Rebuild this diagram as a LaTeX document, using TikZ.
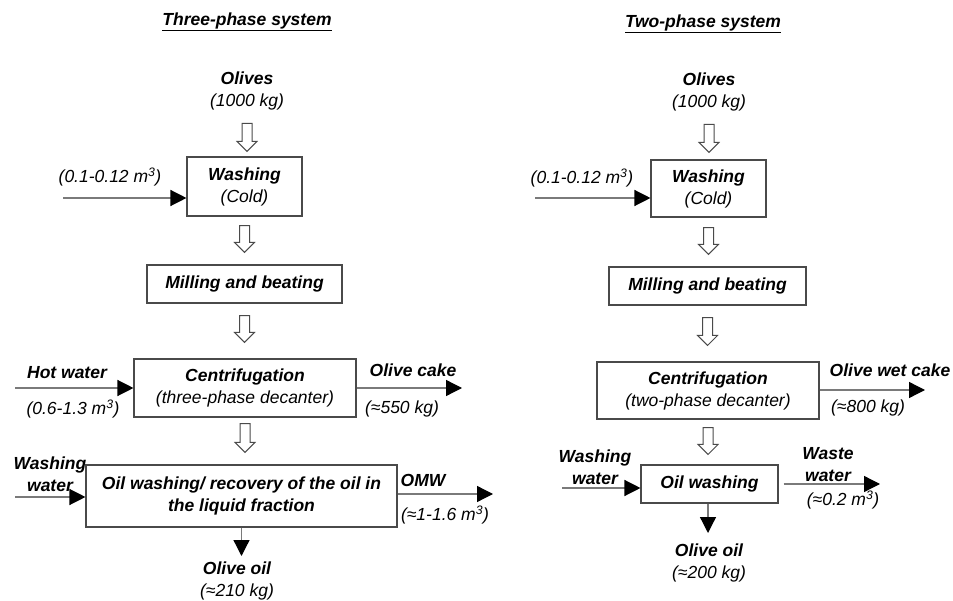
\documentclass[tikz,border=0pt]{standalone}
\usepackage{fontspec}
\setmainfont{Liberation Sans}
\usetikzlibrary{arrows.meta,calc}
\definecolor{boxgray}{HTML}{4A4A4A}
\definecolor{flowgray}{HTML}{7A7A7A}
\newcommand{\fsz}{\fontsize{17.5}{22}\selectfont}
\newcommand{\harrow}[2]{%
  \path (#1) coordinate (hA);
  \path (#2) coordinate (hB);
  \draw[hollow] let \p1=(hA), \p2=(hB) in
    (\x1-5pt,\y1) -- (\x1+5pt,\y1) -- (\x1+5pt,\y2+10pt) -- (\x1+10pt,\y2+10pt)
    -- (\x1,\y2) -- (\x1-10pt,\y2+10pt) -- (\x1-5pt,\y2+10pt) -- cycle;}
\tikzset{
  box/.style={draw=boxgray, line width=1.1pt, inner sep=0pt, align=center, font=\fsz\bfseries\itshape},
  lab/.style={font=\fsz\bfseries\itshape, align=center, inner sep=0pt},
  qty/.style={font=\fsz\itshape, align=center, inner sep=0pt},
  flow/.style={draw=flowgray, line width=1.3pt, -{Triangle[length=16pt,width=16pt,color=black]}},
  hollow/.style={draw=boxgray, line width=1pt, fill=white},
  ttl/.style={font=\fsz\bfseries\itshape, inner sep=0pt}
}
\begin{document}
\begin{tikzpicture}[x=1pt,y=-1pt]
\useasboundingbox[fill=white] (0,0) rectangle (953,601);

% ---------------- Three-phase system ----------------
\node[ttl] (titleL) at (247,22) {\underline{Three-phase system}};
\node[lab] (olivesL) at (247,91) {Olives\\\mdseries(1000 kg)};
\node[box, minimum width=115pt, minimum height=59pt] (washL) at (244.5,186.5) {Washing\\\mdseries(Cold)};
\node[box, minimum width=195pt, minimum height=38pt] (millL) at (244.5,284) {Milling and beating};
\node[box, minimum width=222pt, minimum height=58pt] (centL) at (245,388) {Centrifugation\\\mdseries(three-phase decanter)};
\node[box, minimum width=311pt, minimum height=62pt] (oilL) at (241.5,496) {Oil washing/ recovery of the oil in\\the liquid fraction};

\harrow{[yshift=-13pt]olivesL.south}{[yshift=5pt]washL.north}
\harrow{[yshift=-9pt]washL.south}{[yshift=12pt]millL.north}
\harrow{[yshift=-12pt]millL.south}{[yshift=16pt]centL.north}
\harrow{[yshift=-6pt]centL.south}{[yshift=12pt]oilL.north}

\node[qty] (coldwL) at (110,177) {(0.1-0.12 m\textsuperscript{3})};
\coordinate (coldinL) at (63,198);
\draw[flow] (coldinL) -- (coldinL -| washL.west);

\node[lab] (hotw) at (67,373) {Hot water};
\node[qty] (hotq) at (73,409) {(0.6-1.3 m\textsuperscript{3})};
\coordinate (hotin) at (15,388);
\draw[flow] (hotin) -- (hotin -| centL.west);

\node[lab] (cake) at (413,370) {Olive cake};
\node[qty] (cakeq) at (402,409) {(≈550 kg)};
\coordinate (cakeout) at (462,388);
\draw[flow] (cakeout -| centL.east) -- (cakeout);

\node[lab] (wwL) at (50,474.5) {Washing\\ water};
\coordinate (wwinL) at (15,497);
\draw[flow] (wwinL) -- (wwinL -| oilL.west);

\node[lab] (omw) at (423,480) {OMW};
\node[qty] (omwq) at (445,515) {(≈1-1.6 m\textsuperscript{3})};
\coordinate (omwout) at (493,494);
\draw[flow] (omwout -| oilL.east) -- (omwout);

\coordinate (oiloutL) at (241.5,556);
\draw[flow] (oilL.south) -- (oiloutL);
\node[lab] (oiltxtL) at (237,581) {Olive oil\\\mdseries(≈210 kg)};

% ---------------- Two-phase system ----------------
\node[ttl] (titleR) at (703,24) {\underline{Two-phase system}};
\node[lab] (olivesR) at (709,92) {Olives\\\mdseries(1000 kg)};
\node[box, minimum width=115pt, minimum height=57pt] (washR) at (708.5,188.5) {Washing\\\mdseries(Cold)};
\node[box, minimum width=197pt, minimum height=38pt] (millR) at (707.5,286) {Milling and beating};
\node[box, minimum width=222pt, minimum height=57pt] (centR) at (708,390.5) {Centrifugation\\\mdseries(two-phase decanter)};
\node[box, minimum width=137pt, minimum height=38pt] (oilR) at (709.5,484) {Oil washing};

\harrow{[yshift=-13pt]olivesR.south}{[yshift=7pt]washR.north}
\harrow{[yshift=-10pt]washR.south}{[yshift=12pt]millR.north}
\harrow{[yshift=-12pt]millR.south}{[yshift=16pt]centR.north}
\harrow{[yshift=-8pt]centR.south}{[yshift=10pt]oilR.north}

\node[qty] (coldwR) at (582,178) {(0.1-0.12 m\textsuperscript{3})};
\coordinate (coldinR) at (535,198);
\draw[flow] (coldinR) -- (coldinR -| washR.west);

\node[lab] (wcake) at (890,370) {Olive wet cake};
\node[qty] (wcakeq) at (868,408) {(≈800 kg)};
\coordinate (wcakeout) at (925,390);
\draw[flow] (wcakeout -| centR.east) -- (wcakeout);

\node[lab] (wwR) at (595,467.5) {Washing\\ water};
\coordinate (wwinR) at (562,488);
\draw[flow] (wwinR) -- (wwinR -| oilR.west);

\node[lab] (waste) at (828,464.5) {Waste\\water};
\node[qty] (wasteq) at (843,500) {(≈0.2 m\textsuperscript{3})};
\coordinate (wasteout) at (880,484);
\draw[flow] ([xshift=5pt]oilR.east) -- (wasteout);

\coordinate (oiloutR) at (708,533);
\draw[flow] (oiloutR |- oilR.south) -- (oiloutR);
\node[lab] (oiltxtR) at (709,562.5) {Olive oil\\\mdseries(≈200 kg)};
\end{tikzpicture}
\end{document}
